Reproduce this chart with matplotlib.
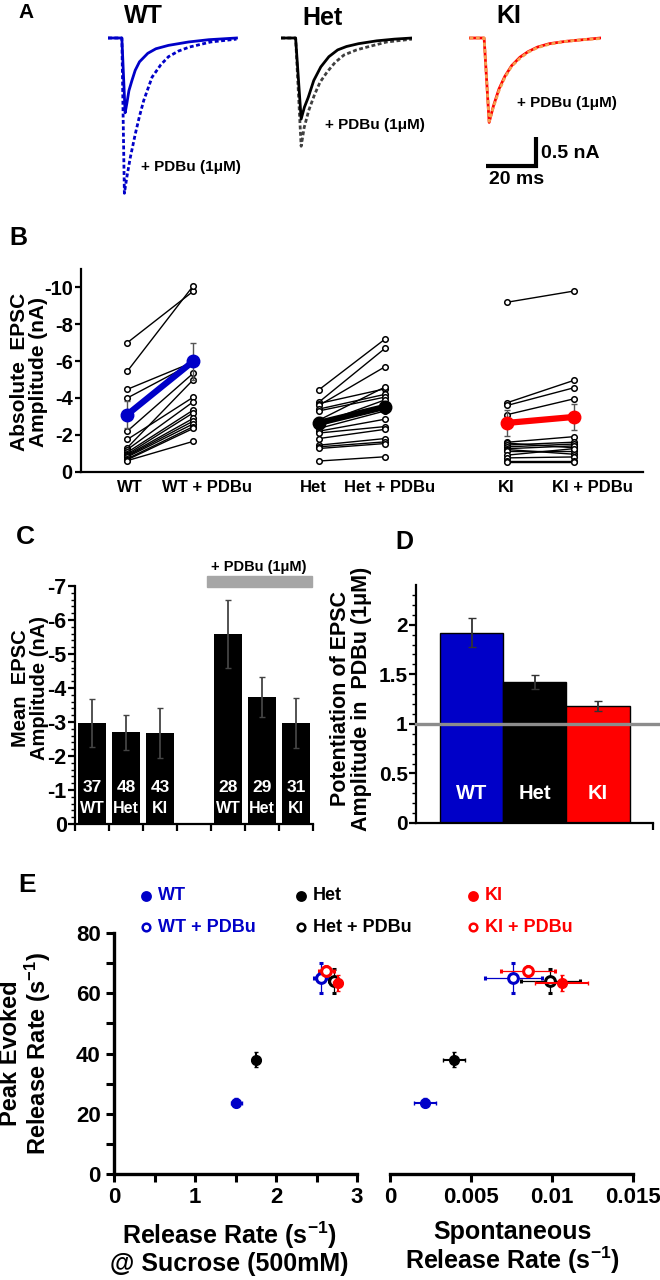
import matplotlib.pyplot as plt
from matplotlib.lines import Line2D
from matplotlib.patches import Rectangle

plt.rcParams.update({
    "font.family": ["Liberation Sans", "DejaVu Sans"],
    "font.weight": "bold",
    "mathtext.fontset": "custom",
    "mathtext.rm": "Liberation Sans:bold",
    "mathtext.bf": "Liberation Sans:bold",
    "mathtext.default": "rm",
    "axes.linewidth": 1.6,
    "xtick.major.width": 1.6,
    "ytick.major.width": 1.6,
    "ytick.minor.width": 1.0,
})

W, H = 660, 1280
BLUE = "#0000c8"
RED = "#ff0000"
ORANGE = "#f5a050"
GREY = "#a6a6a6"

# ---- A: example EPSC traces (time in ms, current in nA)
wt_t = [0, 5.5, 6.8, 7.5, 8.3, 9.5, 10.8, 12.5, 15.8, 19, 24, 32, 40, 51]
wt_ctrl = [0, 0, -1.32, -1.15, -0.93, -0.75, -0.57, -0.42, -0.27, -0.19, -0.13, -0.07, -0.03, 0]
wt_pdbu_t = [0, 5.5, 6.5, 7.5, 8.8, 10.8, 12.5, 14.2, 17.5, 21, 24, 28, 32.3, 40.8, 51]
wt_pdbu = [0, 0, -2.74, -2.45, -2.12, -1.7, -1.38, -1.1, -0.69, -0.47, -0.33, -0.23, -0.16, -0.07, -0.02]
het_t = [0, 5.8, 8, 9.3, 10.8, 13, 15.8, 19, 22.5, 26, 30.8, 38, 45, 52]
het_ctrl = [0, 0, -1.43, -1.22, -1.05, -0.75, -0.51, -0.33, -0.21, -0.15, -0.1, -0.05, -0.02, 0]
het_pdbu_t = [0, 5.8, 8, 9.2, 11, 13.3, 15.5, 18.3, 21.5, 25, 30, 35, 42, 52]
het_pdbu = [0, 0, -1.91, -1.58, -1.28, -1.0, -0.78, -0.6, -0.43, -0.3, -0.21, -0.15, -0.07, -0.02]
ki_t = [0, 5.8, 7.8, 9.5, 11.7, 14, 16.7, 20, 23.3, 27, 31.7, 38, 45, 52]
ki_ctrl = [0, 0, -1.49, -1.2, -0.9, -0.68, -0.49, -0.34, -0.24, -0.16, -0.1, -0.06, -0.03, 0]
ki_pdbu = [0, 0, -1.47, -1.22, -0.93, -0.7, -0.5, -0.36, -0.25, -0.17, -0.11, -0.06, -0.03, -0.01]

# ---- B: individual cells, absolute EPSC amplitude (nA), before / after PDBu
b_pos = [1, 2, 3.9, 4.9, 6.75, 7.75]
b_labels = ["WT", "WT + PDBu", "Het", "Het + PDBu", "KI", "KI + PDBu"]
b_label_pos = [1.04, 2.2, 3.81, 4.96, 6.73, 8.03]
wt_before = [7.0, 5.45, 4.47, 4.0, 2.2, 1.75, 1.3, 1.2, 1.05, 0.95, 0.9, 0.85, 0.8, 0.7, 0.65, 0.6]
wt_after = [9.8, 10.1, 5.95, 5.9, 5.35, 4.05, 5.0, 3.8, 3.35, 3.2, 2.9, 2.75, 2.6, 2.45, 2.35, 1.65]
het_before = [4.45, 3.78, 3.7, 3.6, 3.4, 3.3, 2.8, 2.6, 2.5, 2.35, 2.2, 2.1, 1.8, 1.44, 1.35, 1.26, 0.58]
het_after = [7.2, 6.7, 4.5, 5.7, 4.2, 4.05, 4.6, 3.9, 3.6, 3.3, 2.85, 2.45, 2.3, 1.8, 1.62, 1.53, 0.81]
ki_before = [9.2, 3.75, 3.6, 3.1, 1.6, 1.55, 1.45, 1.35, 1.25, 1.2, 1.1, 0.9, 0.75, 0.6, 0.5]
ki_after = [9.8, 4.95, 4.55, 3.95, 1.9, 1.3, 1.6, 1.5, 1.4, 0.95, 1.1, 1.25, 0.8, 0.6, 0.5]
b_mean = [[3.1, 6.0], [2.65, 3.52], [2.65, 2.97]]
b_sem = [[0.75, 1.0], [0.3, 0.3], [0.7, 0.7]]

# ---- C: mean EPSC amplitude (nA, absolute)
c_groups = ["WT", "Het", "KI", "WT", "Het", "KI"]
c_n = [37, 48, 43, 28, 29, 31]
c_mean = [2.97, 2.70, 2.67, 5.60, 3.74, 2.97]
c_sem = [0.70, 0.52, 0.73, 1.00, 0.58, 0.74]
c_pos = [0.5, 1.5, 2.5, 4.5, 5.5, 6.5]

# ---- D: potentiation ratio
d_groups = ["WT", "Het", "KI"]
d_mean = [1.92, 1.42, 1.18]
d_sem = [0.15, 0.07, 0.05]

# ---- E: release rates
e_groups = ["WT", "Het", "KI"]
suc_ctrl = [1.51, 1.75, 2.76]
suc_ctrl_err = [0.07, 0.05, 0.06]
suc_pdbu = [2.555, 2.72, 2.62]
suc_pdbu_err = [0.09, 0.07, 0.09]
spont_ctrl = [0.00217, 0.00394, 0.0106]
spont_ctrl_err = [0.00068, 0.00068, 0.00163]
spont_pdbu = [0.0076, 0.0099, 0.0085]
spont_pdbu_err = [0.00176, 0.0018, 0.00167]
peak_ctrl = [23.7, 37.9, 63.4]
peak_ctrl_err = [1.5, 2.5, 2.6]
peak_pdbu = [65.1, 64.0, 67.3]
peak_pdbu_err = [5.0, 4.0, 1.7]
e_colors = [BLUE, "black", RED]

fig = plt.figure(figsize=(W / 100, H / 100), dpi=100)


def px_axes(x0, y0, x1, y1):
    return fig.add_axes([x0 / W, 1 - y1 / H, (x1 - x0) / W, (y1 - y0) / H])


def ftext(x, y, s, **kw):
    kw.setdefault("ha", "center")
    kw.setdefault("va", "center")
    kw.setdefault("fontweight", "bold")
    return fig.text(x / W, 1 - y / H, s, **kw)


# ================= A
dotted = (0, (1.4, 0.9))
specs = [
    (108, "WT", wt_t, wt_ctrl, wt_pdbu_t, wt_pdbu, BLUE, BLUE),
    (281, "Het", het_t, het_ctrl, het_pdbu_t, het_pdbu, "black", "#404040"),
    (469.5, "KI", ki_t, ki_ctrl, ki_t, ki_pdbu, RED, ORANGE),
]
for x0, name, t1, y1, t2, y2, c1, c2 in specs:
    ax = px_axes(x0, 29.5, x0 + 131, 208)
    ax.set_xlim(0, 52)
    ax.set_ylim(-3.0, 0.15)
    ax.axis("off")
    if name == "KI":
        ax.plot(t1, y1, color=c1, lw=2.0)
        ax.plot(t2, y2, color=c2, lw=2.0, ls=dotted)
        # scale bar: 20 ms, 0.5 nA
        ax.plot([6.4, 26.4, 26.4], [-2.25, -2.25, -1.75], color="black", lw=3,
                solid_joinstyle="miter", solid_capstyle="butt")
    else:
        ax.plot(t2, y2, color=c2, lw=2.0, ls=dotted)
        ax.plot(t1, y1, color=c1, lw=2.0)

ftext(26, 13, "A", fontsize=15)
ftext(143, 16, "WT", fontsize=18)
ftext(323, 18, "Het", fontsize=18)
ftext(509, 16, "KI", fontsize=18)
ftext(191, 167, "+ PDBu (1\u03bcM)", fontsize=11)
ftext(375, 125, "+ PDBu (1\u03bcM)", fontsize=11)
ftext(567, 103, "+ PDBu (1\u03bcM)", fontsize=11)
ftext(541, 153, "0.5 nA", fontsize=14, ha="left")
ftext(517, 179, "20 ms", fontsize=14)

# ================= B
axB = px_axes(81, 269, 643, 471.7)
axB.set_xlim(0.3, 8.8)
axB.set_ylim(0, 11)
pairs = [(wt_before, wt_after), (het_before, het_after), (ki_before, ki_after)]
colors_b = [BLUE, "black", RED]
for g, (bef, aft) in enumerate(pairs):
    xa, xb = b_pos[2 * g], b_pos[2 * g + 1]
    for v0, v1 in zip(bef, aft):
        axB.plot([xa, xb], [v0, v1], color="black", lw=1.0, marker="o", ms=4,
                 mfc="white", mec="black", mew=1.1, zorder=2)
for g in range(3):
    xa, xb = b_pos[2 * g], b_pos[2 * g + 1]
    axB.errorbar([xa, xb], b_mean[g], yerr=b_sem[g], fmt="none", ecolor="#555555",
                 elinewidth=1.0, capsize=2, zorder=3)
    axB.plot([xa, xb], b_mean[g], color=colors_b[g], lw=4.5, marker="o", ms=9,
             mfc=colors_b[g], mec=colors_b[g], zorder=4)
axB.set_yticks(range(0, 11, 2))
axB.set_yticklabels(["0" if v == 0 else f"-{v}" for v in range(0, 11, 2)], fontsize=14.5)
axB.set_xticks(b_label_pos)
axB.set_xticklabels(b_labels, fontsize=12)
axB.tick_params(axis="x", length=0, pad=6)
axB.tick_params(axis="y", length=4, pad=2)
for s in ["top", "right"]:
    axB.spines[s].set_visible(False)
ftext(29, 372, "Absolute  EPSC\nAmplitude (nA)", fontsize=15, rotation=90, linespacing=1.0)
ftext(18, 238, "B", fontsize=18)

# ================= C
axC = px_axes(75, 586, 313, 824)
axC.set_xlim(0, 7)
axC.set_ylim(0, 7)
axC.bar(c_pos, c_mean, width=0.84, color="black", zorder=2)
axC.errorbar(c_pos, c_mean, yerr=c_sem, fmt="none", ecolor="#444444", elinewidth=1.3,
             capsize=2.5, zorder=3)
for x, n, g in zip(c_pos, c_n, c_groups):
    axC.text(x, 1.06, str(n), color="white", ha="center", va="center", fontsize=12.5,
             fontweight="bold", zorder=4)
    axC.text(x, 0.45, g, color="white", ha="center", va="center", fontsize=11.5,
             fontweight="bold", zorder=4)
axC.add_patch(Rectangle((3.88, 6.97), 3.1, 0.33, color=GREY, clip_on=False))
axC.text(5.4, 7.55, "+ PDBu (1\u03bcM)", ha="center", va="center", fontsize=10.5,
         fontweight="bold")
axC.set_yticks(range(0, 8))
axC.set_yticklabels(["0" if v == 0 else f"-{v}" for v in range(0, 8)], fontsize=15.5)
axC.set_yticks([v / 5 for v in range(0, 36)], minor=True)
axC.set_xticks(range(0, 8))
axC.set_xticklabels([])
axC.tick_params(axis="x", length=5, direction="out")
axC.tick_params(axis="y", which="major", length=5, pad=1)
axC.tick_params(axis="y", which="minor", length=3)
for s in ["top", "right"]:
    axC.spines[s].set_visible(False)
ftext(30, 688, "Mean  EPSC\nAmplitude (nA)", fontsize=14.5, rotation=90, linespacing=1.0)
ftext(25, 537, "C", fontsize=19)

# ================= D
axD = px_axes(416, 585, 653, 823)
axD.set_xlim(0, 3.75)
axD.set_ylim(0, 2.4)
d_pos = [0.88, 1.88, 2.88]
axD.bar(d_pos, d_mean, width=1.0, color=[BLUE, "black", RED], edgecolor="black",
        lw=1.0, zorder=2)
axD.errorbar(d_pos, d_mean, yerr=d_sem, fmt="none", ecolor="#333333", elinewidth=1.3,
             capsize=3, zorder=3)
axD.axhline(1, xmin=0, xmax=(660 - 416) / 237, color="#8c8c8c", lw=2.4, clip_on=False,
            zorder=4)
for x, g in zip(d_pos, d_groups):
    axD.text(x, 0.3, g, color="white", ha="center", va="center", fontsize=14.5,
             fontweight="bold", zorder=5)
axD.set_yticks([0, 0.5, 1, 1.5, 2])
axD.set_yticklabels(["0", "0.5", "1", "1.5", "2"], fontsize=15)
axD.set_yticks([v / 10 for v in range(0, 24)], minor=True)
axD.set_xticks([3.75])
axD.set_xticklabels([])
axD.tick_params(axis="x", length=5)
axD.tick_params(axis="y", which="major", length=5, pad=1)
axD.tick_params(axis="y", which="minor", length=3)
for s in ["top", "right"]:
    axD.spines[s].set_visible(False)
ftext(351, 699, "Potentiation of EPSC\nAmplitude in  PDBu (1\u03bcM)", fontsize=15.5,
      rotation=90, linespacing=1.0)
ftext(404, 542, "D", fontsize=18)

# ================= E
axE1 = px_axes(114, 933, 357, 1174)
axE2 = px_axes(390, 933, 633, 1174)
for ax, xc, xce, xp, xpe in [
    (axE1, suc_ctrl, suc_ctrl_err, suc_pdbu, suc_pdbu_err),
    (axE2, spont_ctrl, spont_ctrl_err, spont_pdbu, spont_pdbu_err),
]:
    for i in range(3):
        ax.errorbar(xp[i], peak_pdbu[i], xerr=xpe[i], yerr=peak_pdbu_err[i], fmt="o",
                    ms=7, mfc="white", mec=e_colors[i], mew=2.2, ecolor=e_colors[i],
                    elinewidth=0.9, capsize=1.5, zorder=3)
        ax.errorbar(xc[i], peak_ctrl[i], xerr=xce[i], yerr=peak_ctrl_err[i], fmt="o",
                    ms=7, mfc=e_colors[i], mec=e_colors[i], ecolor=e_colors[i],
                    elinewidth=1.5, capsize=1.5, zorder=4)
    ax.set_ylim(0, 80)
    for s in ["top", "right"]:
        ax.spines[s].set_visible(False)
    ax.spines["bottom"].set_linewidth(2.4)
    ax.tick_params(axis="both", which="both", width=2.2, labelsize=16)
    ax.tick_params(axis="both", which="major", length=6)
    ax.tick_params(axis="both", which="minor", length=6)

axE1.set_xlim(0, 3)
axE1.set_xticks([0, 1, 2, 3])
axE1.set_xticks([0.5, 1.5, 2.5], minor=True)
axE1.set_yticks([0, 20, 40, 60, 80])
axE1.set_yticks([10, 30, 50, 70], minor=True)
axE1.spines["left"].set_linewidth(2.4)

axE2.set_xlim(0, 0.015)
axE2.set_xticks([0, 0.005, 0.01, 0.015])
axE2.set_xticklabels(["0", "0.005", "0.01", "0.015"])
axE2.spines["left"].set_visible(False)
axE2.set_yticks([])

ftext(26, 1053, "Peak Evoked\nRelease Rate (s$^{-1}$)", fontsize=17, rotation=90,
      linespacing=1.0)
ftext(229, 1248, "Release Rate (s$^{-1}$)\n@ Sucrose (500mM)", fontsize=18,
      linespacing=1.05)
ftext(512, 1248, "Spontaneous\nRelease Rate (s$^{-1}$)", fontsize=18, linespacing=1.05)
ftext(27, 885, "E", fontsize=19)

# legend, three columns of control / + PDBu
leg_x = [146, 301, 473]
for i, g in enumerate(e_groups):
    for row, (lab, filled) in enumerate([(g, True), (g + " + PDBu", False)]):
        y = 896 if row == 0 else 927
        fig.add_artist(Line2D([leg_x[i] / W], [1 - y / H], marker="o", ms=6 if filled else 5.5,
                              mfc=e_colors[i] if filled else "white", mec=e_colors[i],
                              mew=1.8, ls="none", transform=fig.transFigure))
        ftext(leg_x[i] + 12, y, lab, fontsize=13, ha="left", color=e_colors[i])

fig.savefig("out.png", dpi=100)
